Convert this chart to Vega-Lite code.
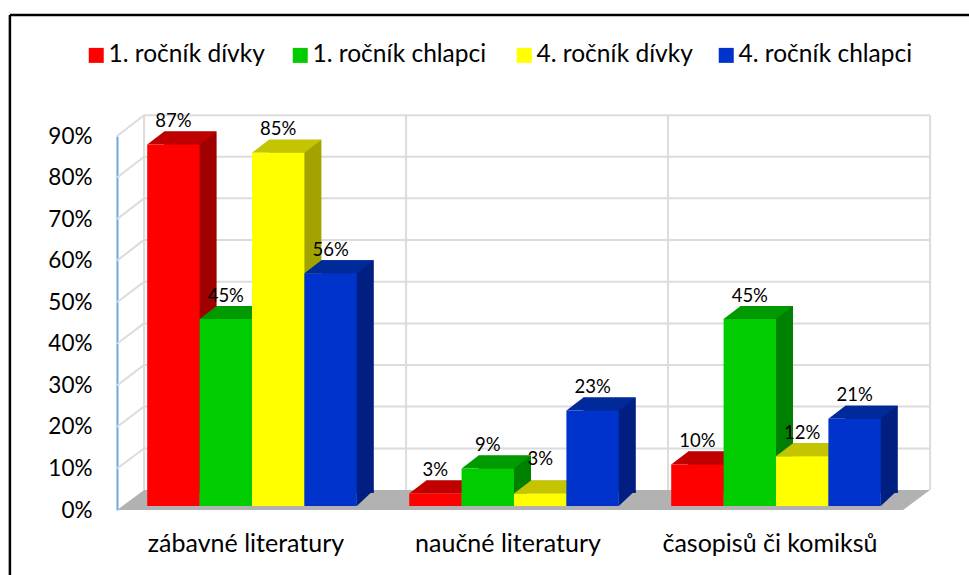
{
"$schema":"https://vega.github.io/schema/vega-lite/v6.json",
"autosize":{"type":"none"},
"padding":{"left":121,"top":136,"right":62,"bottom":65},
"width":786,"height":374,
"background":"white",
"config":{"view":{"stroke":null},"font":"Lato"},
"datasets":{
"bars":[
{"cat":"zábavné literatury","series":"1. ročník dívky","value":0.87},
{"cat":"zábavné literatury","series":"1. ročník chlapci","value":0.45},
{"cat":"zábavné literatury","series":"4. ročník dívky","value":0.85},
{"cat":"zábavné literatury","series":"4. ročník chlapci","value":0.56},
{"cat":"naučné literatury","series":"1. ročník dívky","value":0.03},
{"cat":"naučné literatury","series":"1. ročník chlapci","value":0.09},
{"cat":"naučné literatury","series":"4. ročník dívky","value":0.03},
{"cat":"naučné literatury","series":"4. ročník chlapci","value":0.23},
{"cat":"časopisů či komiksů","series":"1. ročník dívky","value":0.10},
{"cat":"časopisů či komiksů","series":"1. ročník chlapci","value":0.45},
{"cat":"časopisů či komiksů","series":"4. ročník dívky","value":0.12},
{"cat":"časopisů či komiksů","series":"4. ročník chlapci","value":0.21}
],
"grid":[
{"p":0.1,"back":0.148},{"p":0.2,"back":0.249},{"p":0.3,"back":0.349},{"p":0.4,"back":0.449},{"p":0.5,"back":0.549},{"p":0.6,"back":0.65},{"p":0.7,"back":0.75},{"p":0.8,"back":0.85},{"p":0.9,"back":0.95}
],
"walls":[{"pos":0.088},{"pos":1.088},{"pos":2.088},{"pos":3.088}],
"floor":[
{"pos":-0.015,"top":0,"bottom":0},
{"pos":0.088,"top":0.048,"bottom":0},
{"pos":2.985,"top":0.048,"bottom":0},
{"pos":3.088,"top":0.048,"bottom":0.048}
]
},
"resolve":{"scale":{"x":"independent","color":"independent"}},
"layer":[
{"data":{"name":"grid"},"mark":{"type":"rule","color":"#dcdcdc","strokeWidth":2},
 "encoding":{"x":{"datum":0.088,"type":"quantitative","scale":{"domain":[0,3]},"axis":null},"x2":{"datum":3.088},
 "y":{"field":"back","type":"quantitative","scale":{"domain":[0,0.9],"nice":false},"axis":{"title":null,"values":[0,0.1,0.2,0.3,0.4,0.5,0.6,0.7,0.8,0.9],"format":".0%","grid":false,"ticks":false,"offset":4,"domainColor":"#6fa8dc","domainWidth":2,"labelFontSize":22.5,"labelColor":"#000000","labelPadding":25,"labelFont":"Lato"}}}},
{"data":{"name":"grid"},"mark":{"type":"rule","color":"#dcdcdc","strokeWidth":2},
 "encoding":{"x":{"datum":-0.015,"type":"quantitative","scale":{"domain":[0,3]},"axis":null},"x2":{"datum":0.088},
 "y":{"field":"p","type":"quantitative"},"y2":{"field":"back"}}},
{"data":{"name":"walls"},"mark":{"type":"rule","color":"#dcdcdc","strokeWidth":2},
 "encoding":{"x":{"field":"pos","type":"quantitative","scale":{"domain":[0,3]},"axis":null},
 "y":{"datum":0.048,"type":"quantitative"},"y2":{"datum":0.95}}},
{"data":{"name":"floor"},"mark":{"type":"area","color":"#b2b2b2","opacity":1},
 "encoding":{"x":{"field":"pos","type":"quantitative","scale":{"domain":[0,3]},"axis":null},
 "y":{"field":"top","type":"quantitative"},"y2":{"field":"bottom"}}},
{"data":{"name":"bars"},"mark":{"type":"bar","yOffset":-17},
 "encoding":{"x":{"field":"cat","type":"nominal","sort":null,"axis":null,"scale":{"paddingInner":0.2,"paddingOuter":0.1,"range":[17,803]}},
 "xOffset":{"field":"series","type":"nominal","sort":null,"scale":{"padding":0}},
 "y":{"field":"value","type":"quantitative"},
 "color":{"field":"series","type":"nominal","sort":null,"legend":null,"scale":{"range":["#a00000","#008000","#a3a300","#001f80"]}}}},
{"data":{"name":"bars"},"mark":{"type":"point","shape":"M26.2,0L43.2,-16L43.2,-14L26.2,-14Z","filled":true,"size":4,"opacity":1,"strokeWidth":0,"yOffset":-4},
 "encoding":{"x":{"field":"cat","type":"nominal","sort":null,"axis":null,"scale":{"paddingInner":0.2,"paddingOuter":0.1}},
 "xOffset":{"field":"series","type":"nominal","sort":null,"scale":{"padding":0}},
 "y":{"datum":0,"type":"quantitative"},
 "color":{"field":"series","type":"nominal","sort":null,"legend":null,"scale":{"range":["#a00000","#008000","#a3a300","#001f80"]}}}},
{"data":{"name":"bars"},"mark":{"type":"point","shape":"M-26.2,0L26.2,0L43.2,-13L-9.2,-13Z","filled":true,"size":4,"opacity":1,"strokeWidth":0,"yOffset":-4},
 "encoding":{"x":{"field":"cat","type":"nominal","sort":null,"axis":null,"scale":{"paddingInner":0.2,"paddingOuter":0.1}},
 "xOffset":{"field":"series","type":"nominal","sort":null,"scale":{"padding":0}},
 "y":{"field":"value","type":"quantitative"},
 "color":{"field":"series","type":"nominal","sort":null,"legend":null,"scale":{"range":["#c00000","#009900","#c4c400","#002a99"]}}}},
{"data":{"name":"bars"},"transform":[{"filter":"datum.series==='1. ročník dívky' || datum.series==='1. ročník chlapci'"}],"mark":{"type":"bar","yOffset":-4},
 "encoding":{"x":{"field":"cat","type":"nominal","sort":null,"scale":{"paddingInner":0.2,"paddingOuter":0.1,"domain":["zábavné literatury","naučné literatury","časopisů či komiksů"]},"axis":{"title":null,"labelAngle":0,"ticks":false,"domain":false,"labelFontSize":25,"labelLimit":300,"labelColor":"#000000","labelOffset":-6,"labelPadding":21,"labelFont":"Lato"}},
 "xOffset":{"field":"series","type":"nominal","sort":null,"scale":{"padding":0,"domain":["1. ročník dívky","1. ročník chlapci","4. ročník dívky","4. ročník chlapci"]}},
 "y":{"field":"value","type":"quantitative"},
 "color":{"field":"series","type":"nominal","sort":null,"scale":{"domain":["1. ročník dívky","1. ročník chlapci"],"range":["#ff0000","#00cc00"]},
 "legend":{"title":null,"orient":"none","legendX":-37,"legendY":-93,"columns":2,"direction":"horizontal","symbolType":"square","symbolSize":225,"symbolStrokeWidth":0,"labelFontSize":24.5,"labelLimit":300,"labelColor":"#000000","labelFont":"Lato","labelOffset":0,"columnPadding":23,"padding":0}}}},
{"data":{"name":"bars"},"transform":[{"filter":"datum.series==='4. ročník dívky' || datum.series==='4. ročník chlapci'"}],"mark":{"type":"bar","yOffset":-4},
 "encoding":{"x":{"field":"cat","type":"nominal","sort":null,"axis":null,"scale":{"paddingInner":0.2,"paddingOuter":0.1,"domain":["zábavné literatury","naučné literatury","časopisů či komiksů"]}},
 "xOffset":{"field":"series","type":"nominal","sort":null,"scale":{"padding":0,"domain":["1. ročník dívky","1. ročník chlapci","4. ročník dívky","4. ročník chlapci"]}},
 "y":{"field":"value","type":"quantitative"},
 "color":{"field":"series","type":"nominal","sort":null,"scale":{"domain":["4. ročník dívky","4. ročník chlapci"],"range":["#ffff00","#0033cc"]},
 "legend":{"title":null,"orient":"none","legendX":391,"legendY":-93,"columns":2,"direction":"horizontal","symbolType":"square","symbolSize":225,"symbolStrokeWidth":0,"labelFontSize":24.5,"labelLimit":300,"labelColor":"#000000","labelFont":"Lato","labelOffset":0,"columnPadding":21,"padding":0}}}},
{"data":{"name":"bars"},"transform":[{"filter":"!(datum.cat==='naučné literatury' && datum.series==='4. ročník dívky')"}],"mark":{"type":"text","dy":-27.5,"fontSize":18.5,"font":"Lato","color":"#000000"},
 "encoding":{"x":{"field":"cat","type":"nominal","sort":null,"axis":null,"scale":{"paddingInner":0.2,"paddingOuter":0.1,"domain":["zábavné literatury","naučné literatury","časopisů či komiksů"]}},
 "xOffset":{"field":"series","type":"nominal","sort":null,"scale":{"padding":0,"domain":["1. ročník dívky","1. ročník chlapci","4. ročník dívky","4. ročník chlapci"]}},
 "y":{"field":"value","type":"quantitative"},
 "text":{"field":"value","type":"quantitative","format":".0%"}}},
{"data":{"name":"bars"},"transform":[{"filter":"datum.cat==='naučné literatury' && datum.series==='4. ročník dívky'"}],"mark":{"type":"text","dy":-39,"fontSize":18.5,"font":"Lato","color":"#000000"},
 "encoding":{"x":{"field":"cat","type":"nominal","sort":null,"axis":null,"scale":{"paddingInner":0.2,"paddingOuter":0.1,"domain":["zábavné literatury","naučné literatury","časopisů či komiksů"]}},
 "xOffset":{"field":"series","type":"nominal","sort":null,"scale":{"padding":0,"domain":["1. ročník dívky","1. ročník chlapci","4. ročník dívky","4. ročník chlapci"]}},
 "y":{"field":"value","type":"quantitative"},
 "text":{"field":"value","type":"quantitative","format":".0%"}}},
{"data":{"values":[{"edge":"top"}]},"mark":{"type":"rule","color":"#000000","strokeWidth":2.5},
 "encoding":{"x":{"datum":-0.424,"type":"quantitative","scale":{"domain":[0,3]},"axis":null},"x2":{"datum":3.24},"y":{"datum":1.191,"type":"quantitative"}}},
{"data":{"values":[{"edge":"left"}]},"mark":{"type":"rule","color":"#000000","strokeWidth":2.5},
 "encoding":{"x":{"datum":-0.424,"type":"quantitative","scale":{"domain":[0,3]},"axis":null},"y":{"datum":1.191,"type":"quantitative"},"y2":{"datum":-0.157}}}
]
}
